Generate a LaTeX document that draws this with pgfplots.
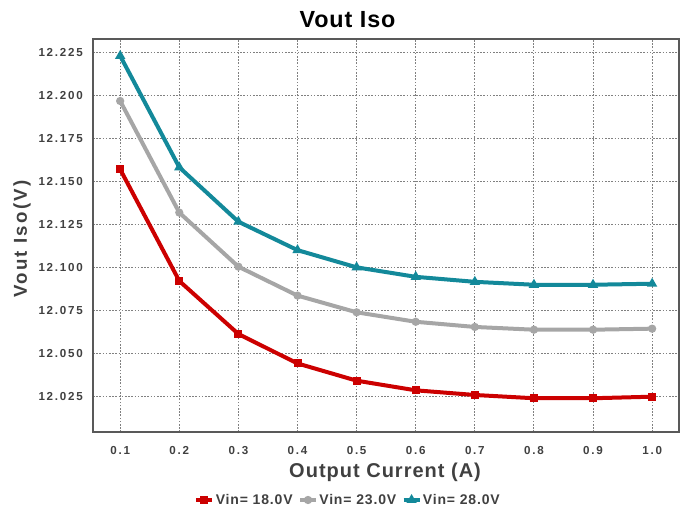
\documentclass[border=0pt]{standalone}
\usepackage{pgfplots}
\pgfplotsset{compat=1.18}
\usepackage{fontspec}
\setmainfont{Liberation Sans}
\newfontfamily\titf{Liberation Sans}[LetterSpace=4]
\newfontfamily\tickf{Liberation Sans}[LetterSpace=15]
\newfontfamily\ylabf{Liberation Sans}[LetterSpace=12]
\newfontfamily\xlabf{Liberation Sans}[LetterSpace=5]
\newfontfamily\legf{Liberation Sans}[LetterSpace=6]
\definecolor{cred}{HTML}{CC0000}
\definecolor{cgray}{HTML}{A6A6A6}
\definecolor{cteal}{HTML}{13899A}
\definecolor{txt}{HTML}{404040}
\begin{document}
\begin{tikzpicture}[x=1pt,y=1pt]
\useasboundingbox (0,0) rectangle (514.5,386.25);
\begin{axis}[
  at={(69.75pt,62.25pt)}, anchor=south west,
  scale only axis, width=439.3pt, height=294.75pt,
  xmin=0.054, xmax=1.045, ymin=12.0045, ymax=12.2327,
  xtick={0.1,0.2,0.3,0.4,0.5,0.6,0.7,0.8,0.9,1.0},
  xticklabels={0.1,0.2,0.3,0.4,0.5,0.6,0.7,0.8,0.9,1.0},
  ytick={12.025,12.05,12.075,12.1,12.125,12.15,12.175,12.2,12.225},
  yticklabels={12.025,12.050,12.075,12.100,12.125,12.150,12.175,12.200,12.225},
  major tick length=0pt,
  xticklabel style={font=\tickf\bfseries\fontsize{8.7}{10}\selectfont, text=txt, anchor=base, inner sep=0pt, yshift=-16.5pt},
  yticklabel style={font=\tickf\bfseries\fontsize{8.7}{10}\selectfont, text=txt, anchor=east, inner sep=0pt, xshift=-7.5pt},
  grid=major,
  major grid style={draw=black!50, line width=0.75pt, dash pattern=on 1.2pt off 1.2pt},
  axis line style={draw=black!65, line width=1.4pt},
  title={Vout Iso},
  title style={font=\titf\bfseries\fontsize{17.5}{20}\selectfont, text=black, at={(axis description cs:0.4345,1)}, anchor=base, yshift=2.5pt, inner sep=0pt},
  xlabel={Output Current (A)},
  xlabel style={font=\xlabf\bfseries\fontsize{15}{17}\selectfont, text=txt, at={(axis description cs:0.4986,-0.1163)}, anchor=base, inner sep=0pt},
  ylabel={Vout Iso(V)},
  ylabel style={font=\ylabf\bfseries\fontsize{14}{16}\selectfont, text=txt, at={(axis description cs:-0.1127,0.491)}, anchor=base, inner sep=0pt},
  legend columns=3,
  legend style={draw=none, fill=none, at={(axis description cs:0.435,-0.173)}, anchor=center,
    font=\legf\bfseries\fontsize{10.5}{12}\selectfont, text=txt,
    /tikz/every even column/.append style={column sep=3pt},
    nodes={inner xsep=1pt, inner ysep=1pt}},
  legend image code/.code={\draw[mark repeat=2,mark phase=2,#1] plot coordinates {(0pt,0pt) (6pt,0pt) (12pt,0pt)};},
  every axis plot/.append style={line width=3pt, mark size=1.5pt, mark options={solid}},
]
\addplot[cred, mark=square*] coordinates {
(0.1,12.157) (0.2,12.0922) (0.3,12.0614) (0.4,12.0443) (0.5,12.0343) (0.6,12.0287) (0.7,12.026) (0.8,12.0241) (0.9,12.0241) (1.0,12.025)};
\addlegendentry{Vin= 18.0V}
\addplot[cgray, mark=*] coordinates {
(0.1,12.1967) (0.2,12.1319) (0.3,12.1005) (0.4,12.0837) (0.5,12.0740) (0.6,12.0685) (0.7,12.0655) (0.8,12.0639) (0.9,12.0639) (1.0,12.0645)};
\addlegendentry{Vin= 23.0V}
\addplot[cteal, mark=triangle*] coordinates {
(0.1,12.2229) (0.2,12.1582) (0.3,12.1266) (0.4,12.1101) (0.5,12.1001) (0.6,12.0946) (0.7,12.0917) (0.8,12.0900) (0.9,12.0900) (1.0,12.0906)};
\addlegendentry{Vin= 28.0V}
\end{axis}
\end{tikzpicture}
\end{document}
